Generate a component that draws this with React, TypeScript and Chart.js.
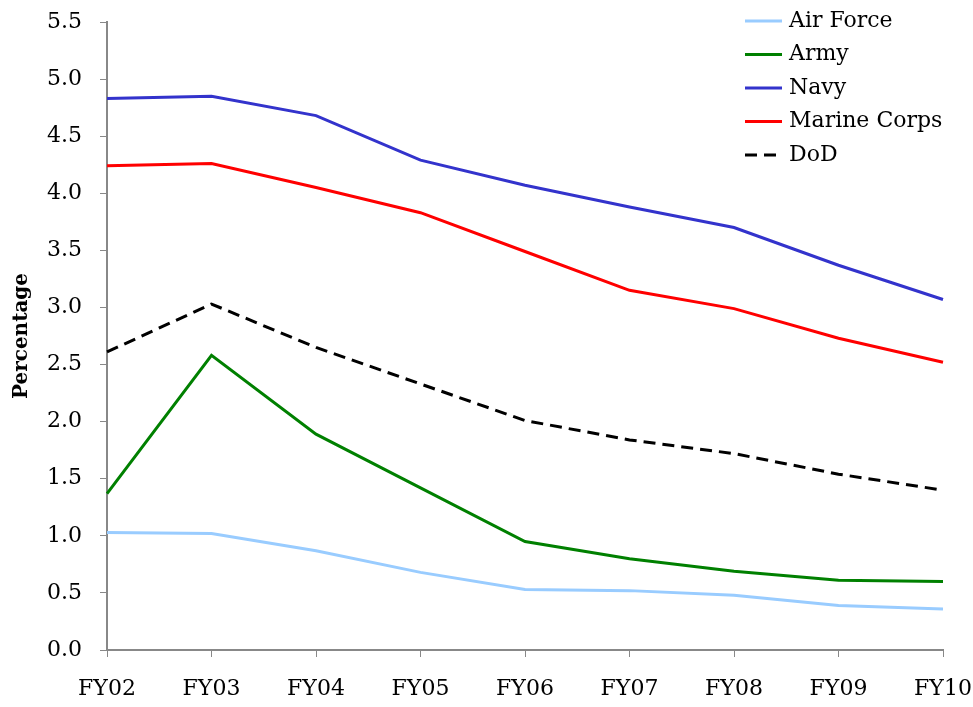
import { useEffect, useRef } from 'react'
import { Chart, registerables } from 'chart.js'

Chart.register(...registerables)

const years = ['FY02', 'FY03', 'FY04', 'FY05', 'FY06', 'FY07', 'FY08', 'FY09', 'FY10']

const airForce = [1.03, 1.02, 0.87, 0.68, 0.53, 0.52, 0.48, 0.39, 0.36]
const army = [1.37, 2.58, 1.89, 1.42, 0.95, 0.8, 0.69, 0.61, 0.6]
const navy = [4.83, 4.85, 4.68, 4.29, 4.07, 3.88, 3.7, 3.37, 3.07]
const marineCorps = [4.24, 4.26, 4.05, 3.83, 3.49, 3.15, 2.99, 2.73, 2.52]
const dod = [2.61, 3.03, 2.65, 2.33, 2.01, 1.84, 1.72, 1.54, 1.4]

const FONT = '"DejaVu Serif", serif'

// legend drawn inside the plot, top right
const insideLegend = {
  id: 'insideLegend',
  afterDraw(chart: Chart) {
    const ctx = chart.ctx
    const x0 = 745
    const y0 = 21
    const rowH = 33.5
    ctx.save()
    ctx.font = `22px ${FONT}`
    ctx.textBaseline = 'middle'
    ctx.fillStyle = '#000'
    chart.data.datasets.forEach((ds: any, i: number) => {
      const y = y0 + i * rowH
      ctx.beginPath()
      ctx.strokeStyle = ds.borderColor
      ctx.lineWidth = 3
      ctx.setLineDash(ds.borderDash || [])
      ctx.moveTo(x0, y)
      ctx.lineTo(x0 + 37, y)
      ctx.stroke()
      ctx.setLineDash([])
      ctx.fillText(ds.label, x0 + 44, y)
    })
    ctx.restore()
  },
}

export default function App() {
  const canvasRef = useRef<HTMLCanvasElement>(null)

  useEffect(() => {
    if (!canvasRef.current) return
    document.body.style.margin = '0'

    const line = (label: string, data: number[], color: string, dash?: number[]) => ({
      label,
      data,
      borderColor: color,
      backgroundColor: color,
      borderWidth: 3,
      borderDash: dash || [],
      pointRadius: 0,
      tension: 0,
    })

    const chart = new Chart(canvasRef.current, {
      type: 'line',
      data: {
        labels: years,
        datasets: [
          line('Air Force', airForce, '#99ccff'),
          line('Army', army, '#008000'),
          line('Navy', navy, '#3333cc'),
          line('Marine Corps', marineCorps, '#ff0000'),
          line('DoD', dod, '#000000', [12, 7]),
        ],
      },
      options: {
        animation: false,
        responsive: false,
        layout: { padding: { top: 22, right: 30, left: 0, bottom: 0 } },
        plugins: {
          legend: { display: false },
          tooltip: { enabled: false },
        },
        scales: {
          x: {
            offset: false,
            grid: { drawOnChartArea: false, tickLength: 7, color: '#888', tickColor: '#888' },
            border: { color: '#888', width: 2 },
            ticks: { font: { family: FONT, size: 22 }, color: '#000', padding: 19, maxRotation: 0 },
            afterFit: (s: any) => {
              s.height = 57
              s.paddingLeft = 0
              s.paddingRight = 0
            },
          },
          y: {
            min: 0,
            max: 5.5,
            ticks: {
              stepSize: 0.5,
              font: { family: FONT, size: 22 },
              color: '#000',
              padding: 18,
              callback: (v: any) => Number(v).toFixed(1),
            },
            grid: { drawOnChartArea: false, tickLength: 7, color: '#888', tickColor: '#888' },
            border: { color: '#888', width: 2 },
            title: {
              display: true,
              text: 'Percentage',
              font: { family: FONT, size: 20, weight: 'bold' },
              color: '#000',
              padding: { top: 10, bottom: 0 },
            },
            afterFit: (s: any) => {
              s.width = 107
              s.paddingTop = 0
              s.paddingBottom = 0
            },
          },
        },
      },
      plugins: [insideLegend],
    })

    return () => chart.destroy()
  }, [])

  return (
    <div style={{ width: 973, height: 707 }}>
      <canvas ref={canvasRef} width={973} height={707} />
    </div>
  )
}
